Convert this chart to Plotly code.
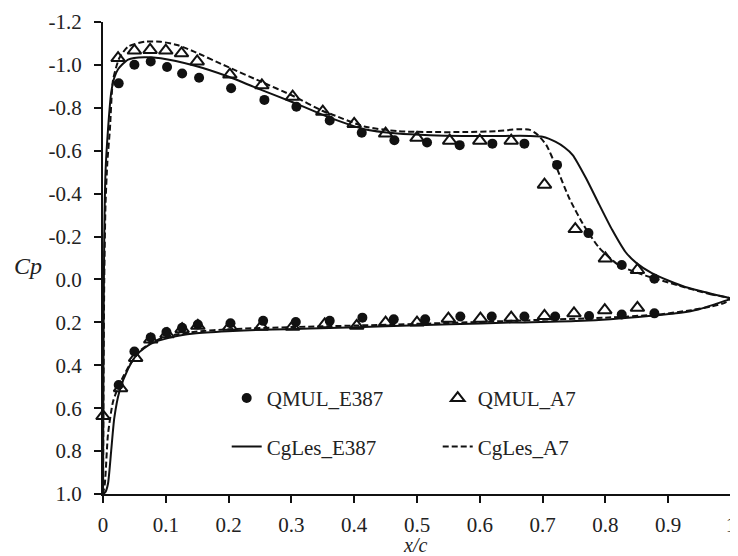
import plotly.graph_objects as go

# ---------------- data ----------------
# Experimental (QMUL) data, E387 airfoil (filled circles)
e387_exp_upper_x = [0.025, 0.050, 0.076, 0.102, 0.126, 0.153, 0.204, 0.257, 0.308, 0.361,
                    0.412, 0.464, 0.516, 0.568, 0.620, 0.671, 0.723, 0.773, 0.826, 0.878]
e387_exp_upper_cp = [-0.914, -1.001, -1.016, -0.99, -0.96, -0.94, -0.891, -0.837, -0.805, -0.741,
                     -0.684, -0.649, -0.638, -0.626, -0.633, -0.633, -0.534, -0.216, -0.067, -0.003]
e387_exp_lower_x = [0.025, 0.050, 0.076, 0.101, 0.126, 0.151, 0.203, 0.255, 0.307, 0.361,
                    0.413, 0.463, 0.513, 0.569, 0.619, 0.671, 0.720, 0.774, 0.826, 0.878]
e387_exp_lower_cp = [0.492, 0.336, 0.27, 0.245, 0.225, 0.21, 0.204, 0.193, 0.198, 0.193,
                     0.178, 0.186, 0.186, 0.173, 0.173, 0.173, 0.173, 0.170, 0.163, 0.158]

# Experimental (QMUL) data, A7 airfoil (open triangles)
a7_exp_upper_x = [0.024, 0.050, 0.075, 0.100, 0.125, 0.150, 0.202, 0.253, 0.302, 0.350,
                  0.400, 0.450, 0.500, 0.552, 0.600, 0.650, 0.703, 0.752, 0.800, 0.851]
a7_exp_upper_cp = [-1.032, -1.067, -1.07, -1.067, -1.054, -1.016, -0.955, -0.905, -0.852, -0.782,
                   -0.725, -0.680, -0.66, -0.647, -0.647, -0.647, -0.442, -0.235, -0.098, -0.044]
a7_exp_lower_x = [0.0, 0.028, 0.052, 0.076, 0.102, 0.126, 0.151, 0.202, 0.252, 0.302, 0.353,
                  0.404, 0.450, 0.500, 0.550, 0.601, 0.650, 0.703, 0.750, 0.799, 0.851]
a7_exp_lower_cp = [0.637, 0.507, 0.366, 0.28, 0.255, 0.232, 0.216, 0.22, 0.22, 0.22, 0.209,
                   0.216, 0.201, 0.201, 0.183, 0.183, 0.178, 0.170, 0.158, 0.143, 0.132]

# CgLes computations, E387 (solid line)
e387_les_upper_x = [0.0, 0.0005, 0.001, 0.002, 0.004, 0.008, 0.013, 0.018, 0.024, 0.04, 0.066,
                    0.092, 0.145, 0.198, 0.25, 0.303, 0.35, 0.363, 0.416, 0.469, 0.521, 0.574,
                    0.627, 0.679, 0.70, 0.721, 0.735, 0.748, 0.769, 0.79, 0.811, 0.832, 0.85,
                    0.874, 0.90, 0.927, 0.96, 0.98, 1.0]
e387_les_upper_cp = [1.0, 0.6, 0.2, -0.2, -0.5, -0.70, -0.87, -0.94, -0.98, -1.025, -1.036,
                     -1.031, -0.997, -0.947, -0.886, -0.825, -0.767, -0.752, -0.70, -0.68, -0.672, -0.669,
                     -0.669, -0.669, -0.665, -0.641, -0.615, -0.58, -0.473, -0.35, -0.23, -0.128, -0.075,
                     -0.029, 0.005, 0.035, 0.06, 0.075, 0.09]
e387_les_lower_x = [0.0, 0.004, 0.008, 0.013, 0.018, 0.026, 0.04, 0.055, 0.076, 0.108, 0.145,
                    0.198, 0.25, 0.33, 0.45, 0.553, 0.65, 0.764, 0.869, 0.92, 0.948, 0.975, 0.99, 1.0]
e387_les_lower_cp = [1.0, 0.99, 0.951, 0.80, 0.645, 0.523, 0.416, 0.347, 0.30, 0.27, 0.252,
                     0.241, 0.235, 0.229, 0.218, 0.209, 0.201, 0.193, 0.170, 0.155, 0.14, 0.115, 0.10, 0.09]

# CgLes computations, A7 (dashed line)
a7_les_upper_x = [0.0, 0.001, 0.002, 0.004, 0.007, 0.011, 0.016, 0.026, 0.04, 0.066, 0.092,
                  0.118, 0.145, 0.197, 0.25, 0.303, 0.35, 0.363, 0.416, 0.469, 0.521, 0.574,
                  0.627, 0.66, 0.68, 0.692, 0.706, 0.721, 0.743, 0.766, 0.79, 0.822, 0.864,
                  0.916, 0.969, 1.0]
a7_les_upper_cp = [1.0, 0.4, 0.0, -0.35, -0.55, -0.70, -0.93, -1.032, -1.085, -1.108, -1.108,
                   -1.093, -1.062, -0.993, -0.924, -0.855, -0.785, -0.771, -0.713, -0.691, -0.687, -0.687,
                   -0.691, -0.700, -0.697, -0.675, -0.626, -0.53, -0.375, -0.25, -0.148, -0.065, -0.018,
                   0.028, 0.07, 0.09]
a7_les_lower_x = [0.0, 0.003, 0.008, 0.016, 0.026, 0.042, 0.06, 0.08, 0.11, 0.15, 0.2, 0.3,
                  0.4, 0.5, 0.6, 0.7, 0.8, 0.885, 0.937, 0.97, 0.99, 1.0]
a7_les_lower_cp = [1.0, 0.95, 0.72, 0.569, 0.49, 0.40, 0.33, 0.29, 0.26, 0.243, 0.232, 0.222,
                   0.215, 0.207, 0.198, 0.188, 0.178, 0.163, 0.143, 0.125, 0.109, 0.09]

# axis ticks
x_tick_vals = [0, 0.1, 0.2, 0.3, 0.4, 0.5, 0.6, 0.7, 0.8, 0.9, 1.0]
x_tick_text = ["0", "0.1", "0.2", "0.3", "0.4", "0.5", "0.6", "0.7", "0.8", "0.9", "1"]
y_tick_vals = [-1.2, -1.0, -0.8, -0.6, -0.4, -0.2, 0.0, 0.2, 0.4, 0.6, 0.8, 1.0]
y_tick_text = ["-1.2", "-1.0", "-0.8", "-0.6", "-0.4", "-0.2", "0.0", "0.2", "0.4", "0.6", "0.8", "1.0"]

# ---------------- figure ----------------
SERIF = "Liberation Serif, Times New Roman, serif"
INK = "#111111"
TXT = "#222222"

def loop(ux, ucp, lx, lcp):
    return ux[::-1] + lx, ucp[::-1] + lcp

fig = go.Figure()

ex, ecp = loop(e387_les_upper_x, e387_les_upper_cp, e387_les_lower_x, e387_les_lower_cp)
ax, acp = loop(a7_les_upper_x, a7_les_upper_cp, a7_les_lower_x, a7_les_lower_cp)

fig.add_trace(go.Scatter(
    x=ex, y=ecp, mode="lines", name="CgLes_E387", legend="legend2",
    line=dict(color=INK, width=2, shape="spline", smoothing=0.6)))
fig.add_trace(go.Scatter(
    x=ax, y=acp, mode="lines", name="CgLes_A7", legend="legend2",
    line=dict(color=INK, width=2, dash="6px,3px", shape="spline", smoothing=0.6)))

fig.add_trace(go.Scatter(
    x=e387_exp_upper_x + e387_exp_lower_x, y=e387_exp_upper_cp + e387_exp_lower_cp,
    mode="markers", name="QMUL_E387", legend="legend", cliponaxis=False,
    marker=dict(symbol="circle", size=10, color=INK)))
fig.add_trace(go.Scatter(
    x=a7_exp_upper_x + a7_exp_lower_x, y=a7_exp_upper_cp + a7_exp_lower_cp,
    mode="markers", name="QMUL_A7", legend="legend", cliponaxis=False,
    marker=dict(symbol="triangle-up-open", size=12, color=INK, line=dict(width=2, color=INK))))

axis_common = dict(
    showgrid=False, zeroline=False, showline=True, linecolor=INK, linewidth=2,
    ticks="outside", ticklen=7, tickwidth=2, tickcolor=INK,
    tickfont=dict(family=SERIF, size=21, color=TXT),
    ticklabeloverflow="allow",
)

# the page body adds an 8px offset, so the figure is 8px smaller than the window
fig.update_layout(
    width=730, height=548,
    margin=dict(l=95, r=2, t=7, b=62),
    paper_bgcolor="white", plot_bgcolor="white",
    xaxis=dict(range=[0, 1], tickvals=x_tick_vals, ticktext=x_tick_text,
               ticklabelstandoff=4, **axis_common),
    yaxis=dict(range=[1.0, -1.2], tickvals=y_tick_vals, ticktext=y_tick_text,
               ticklabelstandoff=8, **axis_common),
    legend=dict(orientation="h", x=0.197, y=0.2025, xanchor="left", yanchor="middle",
                entrywidth=166, bgcolor="rgba(0,0,0,0)", borderwidth=0,
                font=dict(family=SERIF, size=21, color=TXT), tracegroupgap=0),
    legend2=dict(orientation="h", x=0.197, y=0.100, xanchor="left", yanchor="middle",
                 entrywidth=166, bgcolor="rgba(0,0,0,0)", borderwidth=0,
                 font=dict(family=SERIF, size=21, color=TXT), tracegroupgap=0),
    annotations=[
        dict(text="<i>Cp</i>", xref="paper", yref="paper", x=-0.119, y=0.484,
             xanchor="center", yanchor="middle",
             showarrow=False, font=dict(family=SERIF, size=24, color=TXT)),
        dict(text="<i>x/c</i>", xref="paper", yref="paper", x=0.497, y=-0.107,
             xanchor="center", yanchor="middle",
             showarrow=False, font=dict(family=SERIF, size=20, color=TXT)),
    ],
)

fig.write_html("out.html")
